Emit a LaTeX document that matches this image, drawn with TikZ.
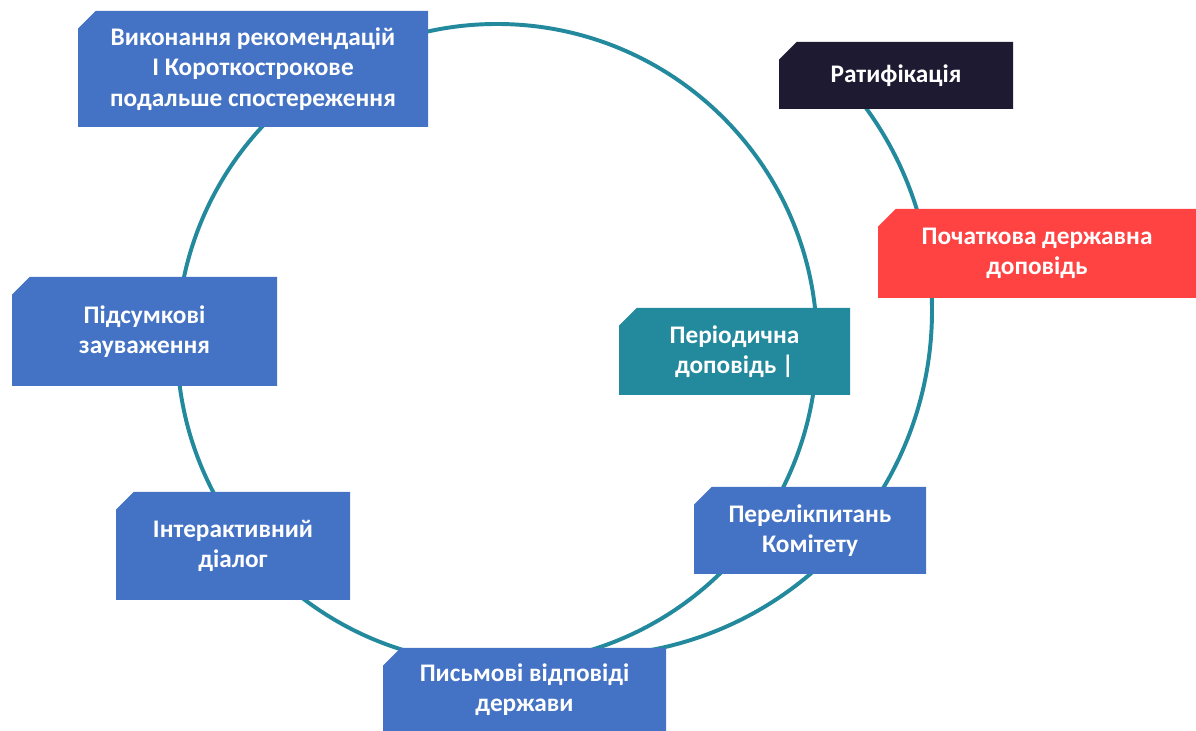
\documentclass[tikz,border=0pt]{standalone}
\usepackage{fontspec}
\setmainfont{Carlito}
\usetikzlibrary{shapes.misc}
\definecolor{ringteal}{HTML}{238A9E}
\definecolor{stageblue}{HTML}{4472C4}
\definecolor{stagenavy}{HTML}{1E1A31}
\definecolor{stagered}{HTML}{FF4343}
\definecolor{stageteal}{HTML}{23899D}
\tikzset{
  stage/.style={chamfered rectangle, chamfered rectangle corners=north west,
    chamfered rectangle xsep=0.22cm, chamfered rectangle ysep=0.22cm,
    fill=stageblue, text=white, align=center, inner sep=0pt,
    font=\bfseries\fontsize{18}{21.5}\selectfont},
  ring/.style={draw=ringteal, line width=2.8pt}
}

\begin{document}
\begin{tikzpicture}
  \useasboundingbox (0,0) rectangle (29.9,18.275);
  % the two cycles
  \coordinate (O) at (12.425,9.675);
  \coordinate (P) at (14.675,10.5);
  \draw [ring] (O) circle (8);
  \draw [ring] (P) ++(40:8.625) arc (40:-80:8.625);
  % stages
  \node [stage, minimum width=8.75cm, minimum height=2.9cm] (impl) at (6.325,16.55)
    {Виконання рекомендацій\\ І Короткострокове\\ подальше спостереження};
  \node [stage, fill=stagenavy, minimum width=5.85cm, minimum height=1.675cm] (ratif) at (22.4,16.3875)
    {Ратифікація};
  \node [stage, fill=stagered, minimum width=7.95cm, minimum height=2.225cm] (init) at (25.925,11.9375)
    {Початкова державна\\ доповідь};
  \node [stage, fill=stageteal, minimum width=5.775cm, minimum height=2.175cm] (period) at (18.3625,9.4875)
    {Періодична\\ доповідь |};
  \node [stage, minimum width=5.8cm, minimum height=2.175cm] (issues) at (20.25,5.0125)
    {Перелікпитань\\ Комітету};
  \node [stage, minimum width=6.625cm, minimum height=2.725cm] (concl) at (3.6125,9.9875)
    {Підсумкові\\ зауваження};
  \node [stage, minimum width=5.85cm, minimum height=2.7cm] (dialog) at (5.825,4.625)
    {Інтерактивний\\ діалог};
  \node [stage, minimum width=7.075cm, minimum height=2.075cm] (reply) at (13.1125,1.0375)
    {Письмові відповіді\\ держави};
\end{tikzpicture}
\end{document}
